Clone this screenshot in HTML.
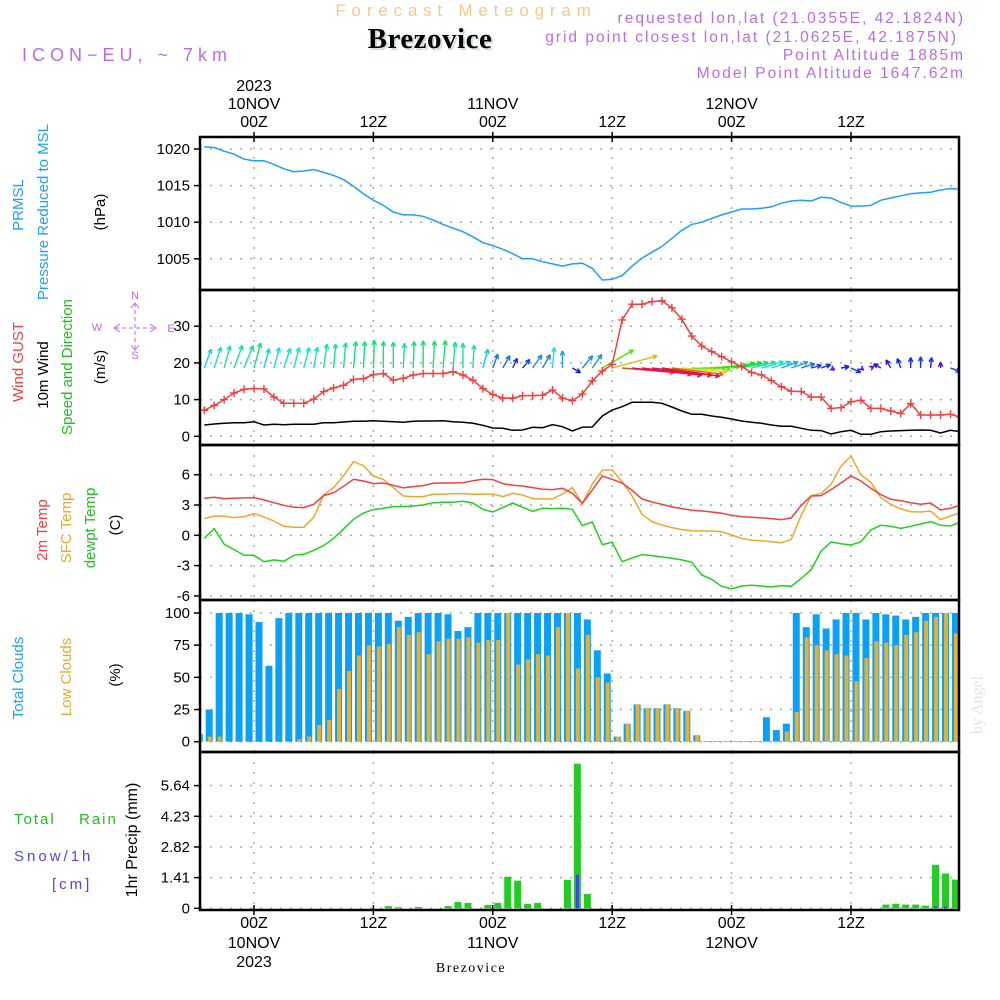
<!DOCTYPE html>
<html><head><meta charset="utf-8"><style>
html,body{margin:0;padding:0;background:#fff;}
svg{display:block;font-family:"Liberation Sans",sans-serif;}
</style></head><body>
<svg id="chart" width="1000" height="1000" viewBox="0 0 1000 1000" xmlns="http://www.w3.org/2000/svg">
<rect width="1000" height="1000" fill="#fff"/>
<text x="466" y="16" text-anchor="middle" font-size="17" letter-spacing="5.8" fill="#f2c98a">Forecast Meteogram</text>
<text x="432" y="50" text-anchor="middle" font-family="Liberation Serif,serif" font-weight="bold" font-size="29" letter-spacing="0.5" fill="#cfe0cf">Brezovice</text>
<text x="430" y="48" text-anchor="middle" font-family="Liberation Serif,serif" font-weight="bold" font-size="29" letter-spacing="0.5" fill="#000">Brezovice</text>
<g fill="#b86ce8" font-size="15.5" letter-spacing="2" text-anchor="end">
<text x="965" y="23">requested lon,lat (21.0355E, 42.1824N)</text>
<text x="958" y="42">grid point closest lon,lat (21.0625E, 42.1875N)</text>
<text x="965" y="60">Point Altitude 1885m</text>
<text x="965" y="78">Model Point Altitude 1647.62m</text>
</g>
<text x="22" y="61" font-size="18" letter-spacing="5" fill="#b86ce8">ICON−EU, ~ 7km</text>
<g id="axes"></g>
</svg>
<script>
// ---- data ----
const pressure = [1020.3,1020.2,1019.7,1019.3,1018.6,1018.4,1018.4,1017.9,1017.3,1016.9,1017.0,1017.2,1016.8,1016.4,1015.8,1014.9,1013.9,1013.0,1012.3,1011.4,1011.0,1011.0,1010.8,1010.3,1009.7,1009.2,1008.7,1008.0,1007.2,1006.8,1006.3,1005.7,1005.0,1005.0,1004.6,1004.3,1004.0,1004.3,1004.4,1003.7,1002.1,1002.2,1002.7,1004.0,1005.1,1005.9,1006.7,1007.8,1008.9,1009.7,1010.0,1010.5,1011.0,1011.4,1011.8,1011.8,1011.9,1012.1,1012.6,1012.9,1013.0,1012.9,1013.4,1013.3,1012.7,1012.2,1012.2,1012.3,1013.0,1013.3,1013.6,1013.9,1014.0,1014.1,1014.4,1014.6,1014.5];
const gust = [7.1,8.4,10.0,11.8,12.8,13.0,12.9,10.7,9.0,9.0,9.0,10.1,12.2,13.2,13.9,15.5,15.7,16.8,17.1,15.3,15.8,16.7,17.1,17.1,17.1,17.6,16.7,15.3,13.0,11.4,10.4,10.4,11.1,11.1,11.2,12.6,10.4,9.7,11.5,15.1,17.8,19.6,31.7,36.0,36.0,36.7,36.9,35.0,31.9,27.3,24.6,23.1,21.7,20.3,19.0,17.4,16.7,15.2,13.5,12.3,12.2,10.7,10.7,7.6,7.8,9.4,9.8,7.6,7.6,6.9,6.2,8.9,5.8,5.8,5.8,6.0,5.2];
const wind10m = [3.08,3.35,3.53,3.71,3.71,3.99,3.08,3.26,3.17,3.26,3.26,3.26,3.71,3.71,3.90,4.08,4.08,4.26,4.08,3.99,3.81,4.08,4.17,4.17,4.26,3.99,3.81,3.53,2.99,2.26,2.17,1.63,1.72,2.44,2.35,3.17,2.62,1.44,2.44,2.53,5.53,7.17,8.07,9.26,9.26,9.26,8.98,7.99,6.89,5.99,5.99,5.53,5.17,4.71,4.17,3.81,3.53,3.08,2.72,2.72,2.17,1.63,1.54,0.63,1.26,1.63,0.54,0.54,1.26,1.44,1.54,1.63,1.72,1.63,0.90,1.63,1.26];
const windDir = [20,18,15,20,22,15,15,15,18,15,15,10,8,5,5,5,3,2,0,0,3,2,0,3,5,5,0,3,15,20,30,25,40,35,30,5,0,120,40,35,60,75,95,96,97,97,98,97,95,92,88,85,82,80,78,76,74,72,70,70,72,75,70,120,80,115,130,60,300,330,340,0,0,5,0,110,30];
const temp2m = [3.66,3.76,3.63,3.66,3.70,3.73,3.50,3.23,2.97,2.77,2.74,3.07,3.93,4.22,4.85,5.54,5.38,5.12,5.18,4.95,4.69,4.82,4.92,5.15,5.18,5.18,5.21,5.41,5.54,5.51,5.12,4.95,4.88,4.72,4.55,4.52,4.65,4.16,3.17,4.49,5.87,5.54,5.18,4.46,3.60,3.30,3.07,2.81,2.64,2.48,2.41,2.31,2.18,1.98,1.85,1.78,1.72,1.65,1.55,1.72,2.97,3.89,3.93,4.52,5.18,5.87,5.38,4.65,4.03,3.56,3.43,3.23,3.07,3.20,2.51,2.67,3.00];
const tempSfc = [1.65,1.91,1.88,1.75,1.85,2.15,1.82,1.42,0.89,0.79,0.79,1.78,3.99,4.72,5.91,7.29,6.90,5.87,5.51,4.72,3.89,3.83,3.83,4.06,4.06,4.13,4.13,4.06,4.06,4.09,3.83,4.16,3.99,3.63,3.60,3.60,4.09,4.72,3.14,5.08,6.47,6.47,5.31,3.89,2.08,1.35,1.02,0.76,0.56,0.46,0.43,0.43,0.36,0.03,-0.30,-0.50,-0.53,-0.63,-0.73,-0.40,2.01,3.93,4.16,5.05,6.83,7.85,5.97,5.25,3.73,3.07,2.61,2.34,2.31,2.41,1.55,1.91,2.24];
const dewpoint = [-0.30,0.66,-0.89,-1.42,-1.98,-1.98,-2.61,-2.44,-2.57,-1.98,-1.88,-1.49,-1.02,-0.30,0.63,1.58,2.21,2.54,2.67,2.84,2.84,2.90,3.00,3.23,3.27,3.27,3.37,3.20,2.57,2.31,2.74,3.20,2.77,2.38,2.67,2.64,2.67,2.57,0.96,1.32,-0.92,-0.69,-2.61,-2.24,-1.91,-2.01,-2.15,-2.28,-2.44,-2.67,-3.93,-4.36,-5.05,-5.31,-5.02,-4.95,-5.02,-5.12,-4.98,-5.05,-4.26,-3.40,-1.55,-0.66,-0.83,-0.96,-0.63,0.53,0.99,0.89,0.69,0.89,1.12,1.35,0.99,0.92,1.32];
const totalClouds = [6,25,100,100,100,99,93,59,96,100,100,100,100,100,100,100,100,100,100,100,94,97,100,100,100,99,86,89,100,100,100,100,100,100,100,100,100,100,100,95,71,53,4,14,29,26,26,29,26,24,5,0.5,0.5,0.5,0.5,0.5,0.5,19,9,14,100,89,99,88,95,100,100,95,100,99,98,95,97,100,100,100,100];
const lowClouds = [6,4,4,0,0,0,0,0,0,0,2,4,13,17,41,55,67,75,74,76,89,83,85,68,78,80,80,81,77,79,79,100,60,64,68,67,89,100,57,83,50,46,4,14,29,26,26,29,26,24,5,0.5,0.5,0.5,0.5,0.5,0.5,0.5,0.5,8,23,81,75,71,68,67,47,65,78,77,75,83,85,94,97,100,84];
const precipHours = [14,15,17,20,21,22,24,25,26,27,28,29,32,33,34,64,65,66,67,68,69,70,71];
const precipRain = [0.1,0.05,0.06,0.1,0.29,0.25,0.15,0.25,1.45,1.27,0.2,0.25,1.31,6.65,0.66,0.17,0.21,0.17,0.17,0.12,2.0,1.6,1.32];
const precipSnow = [0,0,0,0,0,0,0,0,0,0,0,0,0,1.55,0,0,0,0,0,0,0.08,0.08,0];
const startHour = -5;
const pressureTicks = [1005,1010,1015,1020];
const windTicks = [0,10,20,30];
const tempTicks = [-6,-3,0,3,6];
const cloudTicks = [0,25,50,75,100];
const precipTicks = [0,1.41,2.82,4.23,5.64];
const timeTickHours = [0,12,24,36,48,60];
const timeTickLabels = ["00Z","12Z","00Z","12Z","00Z","12Z"];
const dayLabels = {0:"10NOV",24:"11NOV",48:"12NOV"};

// ---- scales ----
const NS="http://www.w3.org/2000/svg";
const svg=document.getElementById('axes');
const X0=200,X1=959;
const xh=h=>254+9.95*h;
const yP=v=>149+(1020-v)*7.32;
const yW=v=>436.3-v*3.67;
const yT=v=>535.3-v*10.1;
const yC=v=>741.7-v*1.287;
const yR=v=>908.3-v*21.75;
const panels=[[137,290,'pressure'],[290,445,'wind'],[445,600,'temperature'],[600,752,'clouds'],[752,910,'precip']];
function mk(tag,attrs,parent){const e=document.createElementNS(NS,tag);for(const k in attrs)e.setAttribute(k,attrs[k]);(parent||svg).appendChild(e);return e;}
panels.forEach(p=>{const c=mk('clipPath',{id:'clip-'+p[2]});mk('rect',{x:X0,y:p[0],width:X1-X0,height:p[1]-p[0]},c);});

panels.forEach(p=>{timeTickHours.forEach(h=>{const l=mk('line',{x1:xh(h),x2:xh(h),y1:p[0],y2:p[1],stroke:'#aaa','stroke-width':1.5,'stroke-dasharray':'2,8'});

});});
function hgrid(ticks,fy,fmt,name){ticks.forEach(t=>{const y=fy(t);
const l=mk('line',{x1:X0,x2:X1,y1:y,y2:y,stroke:'#aaa','stroke-width':1.5,'stroke-dasharray':'2,8'});


const tk=mk('line',{x1:X0-6,x2:X0,y1:y,y2:y,stroke:'#000','stroke-width':1.5});


const tx=mk('text',{x:190,y:y+5,'text-anchor':'end','font-size':15,fill:'#000'});tx.textContent=fmt(t);

});}
hgrid(pressureTicks,yP,t=>t,'pressure');
hgrid(windTicks,yW,t=>t,'wind');
hgrid(tempTicks,yT,t=>t,'temperature');
hgrid(cloudTicks,yC,t=>t,'cloud');
hgrid(precipTicks,yR,t=>t===0?'0':t.toFixed(2),'precip');

function line(vals,fy,color,name,clip,w){const pts=vals.map((v,i)=>xh(startHour+i).toFixed(1)+','+fy(v).toFixed(1)).join(' ');
const e=mk('polyline',{points:pts,fill:'none',stroke:color,'stroke-width':w||1.5,'clip-path':'url(#clip-'+clip+')'});

return e;}

line(pressure,yP,'#1ea0f5','pressure-line','pressure');
const windG=mk('g',{'clip-path':'url(#clip-wind)'});


wind10m.forEach((s,i)=>{const x=xh(startHour+i),y=368;const a=windDir[i]*Math.PI/180;const L=s*6.5;
const ex=x+L*Math.sin(a),ey=y-L*Math.cos(a);const hue=Math.max(-20,Math.min(275,285-s*33));const col='hsl('+((hue+360)%360)+',85%,48%)';
const g=mk('g',{stroke:col,'stroke-width':1.4,fill:'none'},windG);


mk('line',{x1:x,y1:y,x2:ex,y2:ey},g);
const hl=5;[0.45,-0.45].forEach(d=>{mk('line',{x1:ex,y1:ey,x2:ex-hl*Math.sin(a+d),y2:ey+hl*Math.cos(a+d)},g);});});
line(wind10m,yW,'#000','wind-10m-line','wind');
line(gust,yW,'#f04040','wind-gust-line','wind');
gust.forEach((v,i)=>{const x=xh(startHour+i),y=yW(v);const p=mk('path',{d:`M${x-4},${y}H${x+4}M${x},${y-4}V${y+4}`,stroke:'#f04040','stroke-width':1.4,'clip-path':'url(#clip-wind)'});

});
line(tempSfc,yT,'#e8a830','sfc-temp-line','temperature');
line(temp2m,yT,'#f04040','2m-temp-line','temperature');
line(dewpoint,yT,'#20d020','dewpoint-line','temperature');
totalClouds.forEach((v,i)=>{const x=xh(startHour+i-0.5);
const b=mk('rect',{x:x-3.5,y:yC(v),width:7,height:yC(0)-yC(v),fill:'#0aa0f5','clip-path':'url(#clip-clouds)'});


const lv=lowClouds[i];
const o=mk('rect',{x:x-1.5,y:yC(lv),width:4,height:yC(0)-yC(lv),fill:'#e8b030','clip-path':'url(#clip-clouds)'});

});
precipHours.forEach((h,i)=>{const x=xh(h-0.5);const v=precipRain[i];
const b=mk('rect',{x:x-3.5,y:yR(v),width:7,height:yR(0)-yR(v),fill:'#22cc22','clip-path':'url(#clip-precip)'});


const s=precipSnow[i];if(s>0){const sb=mk('rect',{x:x-1.5,y:yR(s),width:3,height:yR(0)-yR(s),fill:'#4040f0','clip-path':'url(#clip-precip)'});

}});
panels.forEach(p=>{const r=mk('rect',{x:X0,y:p[0],width:X1-X0,height:p[1]-p[0],fill:'none',stroke:'#000','stroke-width':2.5});

});
timeTickHours.forEach((h,i)=>{const x=xh(h);
const t=mk('text',{x:x,y:127,'text-anchor':'middle','font-size':16,fill:'#000'});t.textContent=timeTickLabels[i];


const b=mk('text',{x:x,y:928,'text-anchor':'middle','font-size':16,fill:'#000'});b.textContent=timeTickLabels[i];


[137,910].forEach(y=>{const tk=mk('line',{x1:x,x2:x,y1:y-5,y2:y+5,stroke:'#000','stroke-width':1.5});

});
if(dayLabels[h]){const d=mk('text',{x:x,y:109,'text-anchor':'middle','font-size':16,fill:'#000'});d.textContent=dayLabels[h];


const d2=mk('text',{x:x,y:948,'text-anchor':'middle','font-size':16,fill:'#000'});d2.textContent=dayLabels[h];

}});
</script>
<svg style="position:absolute;left:0;top:0" width="1000" height="1000" font-family="Liberation Sans,sans-serif">
<text x="254" y="91" text-anchor="middle" font-size="16">2023</text>
<text x="254" y="967" text-anchor="middle" font-size="16">2023</text>
<text x="471" y="972" text-anchor="middle" font-family="Liberation Serif,serif" font-size="14" letter-spacing="1.5">Brezovice</text>
<g font-size="15">
<text transform="translate(23,205) rotate(-90)" text-anchor="middle" fill="#1ea0f5">PRMSL</text>
<text transform="translate(48,212) rotate(-90)" text-anchor="middle" fill="#1ea0f5">Pressure Reduced to MSL</text>
<text transform="translate(105,212) rotate(-90)" text-anchor="middle" fill="#000">(hPa)</text>
<text transform="translate(23,362) rotate(-90)" text-anchor="middle" fill="#f04040">Wind GUST</text>
<text transform="translate(48,375) rotate(-90)" text-anchor="middle" fill="#000">10m Wind</text>
<text transform="translate(72,367) rotate(-90)" text-anchor="middle" fill="#20c020">Speed and Direction</text>
<text transform="translate(105,367) rotate(-90)" text-anchor="middle" fill="#000">(m/s)</text>
<text transform="translate(47,530) rotate(-90)" text-anchor="middle" fill="#f04040">2m Temp</text>
<text transform="translate(71,528) rotate(-90)" text-anchor="middle" fill="#e8a830">SFC Temp</text>
<text transform="translate(95,528) rotate(-90)" text-anchor="middle" fill="#20c020">dewpt Temp</text>
<text transform="translate(120,525) rotate(-90)" text-anchor="middle" fill="#000">(C)</text>
<text transform="translate(23,678) rotate(-90)" text-anchor="middle" fill="#1ea0f5">Total Clouds</text>
<text transform="translate(71,677) rotate(-90)" text-anchor="middle" fill="#e8a830">Low Clouds</text>
<text transform="translate(120,675) rotate(-90)" text-anchor="middle" fill="#000">(%)</text>
<text transform="translate(137,840) rotate(-90)" text-anchor="middle" fill="#000" font-size="16">1hr Precip (mm)</text>
<text x="14" y="824" fill="#20c020" letter-spacing="2">Total</text>
<text x="79" y="824" fill="#20c020" letter-spacing="2">Rain</text>
<text x="14" y="861" fill="#4848f0" letter-spacing="3">Snow/1h</text>
<text x="52" y="889" fill="#4848f0" letter-spacing="3">[cm]</text>
</g>
<g fill="#b86ce8" stroke="#b86ce8" font-size="11" text-anchor="middle">
<text stroke="none" x="135" y="299">N</text><text stroke="none" x="135" y="359">S</text><text stroke="none" x="97" y="331">W</text><text stroke="none" x="171" y="332">E</text>
<line x1="115" y1="328" x2="155" y2="328" stroke-dasharray="4,3"/><line x1="135" y1="303" x2="135" y2="350" stroke-dasharray="4,3"/>
<path d="M120,324 L114,328 L120,332 M150,324 L156,328 L150,332 M131,308 L135,303 L139,308 M131,345 L135,350 L139,345" fill="none"/>
</g>
<text transform="translate(982,705) rotate(-90)" text-anchor="middle" font-family="Liberation Serif,serif" font-size="16" fill="#dde6dd">by Angel</text>
</svg>
</body></html>
